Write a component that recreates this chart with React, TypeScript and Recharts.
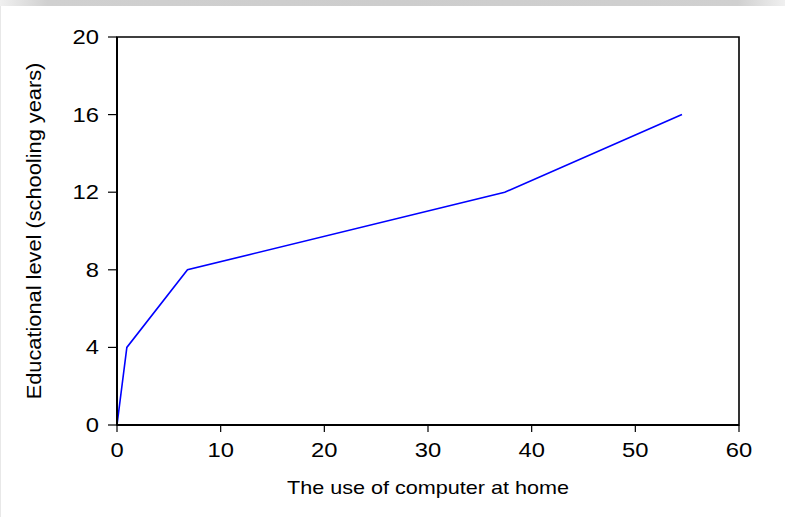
import React from 'react';
import { LineChart, Line, XAxis, YAxis, ReferenceArea, Label } from 'recharts';

// Data
const computerUse = [0, 0.95, 6.8, 37.4, 54.5];
const schoolingYears = [0, 4, 8, 12, 16];
const xTicks = [0, 10, 20, 30, 40, 50, 60];
const yTicks = [0, 4, 8, 12, 16, 20];
const xAxisTitle = 'The use of computer at home';
const yAxisTitle = 'Educational level (schooling years)';

const data = computerUse.map((x, i) => ({ x, y: schoolingYears[i] }));

const FONT = '"Liberation Sans", Arial, Helvetica, sans-serif';
const STRETCH = 1.22;

const XTick = (props: any) => {
  const { x, y, payload } = props;
  return (
    <g transform={`translate(${x},${y}) scale(${STRETCH},1)`}>
      <text x={0} y={0} dy="0.71em" textAnchor="middle" fontFamily={FONT} fontSize={19.5} fill="#000">
        {payload.value}
      </text>
    </g>
  );
};

const YTick = (props: any) => {
  const { x, y, payload } = props;
  return (
    <g transform={`translate(${x},${y}) scale(${STRETCH},1)`}>
      <text x={0} y={0} dy="0.355em" textAnchor="end" fontFamily={FONT} fontSize={19.5} fill="#000">
        {payload.value}
      </text>
    </g>
  );
};

export default function App() {
  return (
    <div style={{ position: 'absolute', left: 0, top: 0, width: 785, height: 517, background: '#fff', overflow: 'hidden' }}>
      <div
        style={{
          position: 'absolute',
          left: 0,
          top: 0,
          width: 785,
          height: 6,
          background: 'linear-gradient(to right, #f0f0f0, #d0d0d0 6%, #cdcdcd 50%, #d0d0d0 94%, #f0f0f0)',
        }}
      />
      <div style={{ position: 'absolute', left: 0, top: 6, width: 1, height: 511, background: '#e8e8e8' }} />
      <div style={{ position: 'absolute', left: 0, top: 0 }}>
        <LineChart width={785} height={517} data={data} margin={{ top: 37, right: 46, left: 0, bottom: 0 }}>
          <XAxis
            type="number"
            dataKey="x"
            domain={[0, 60]}
            ticks={xTicks}
            interval={0}
            height={92}
            tickSize={7}
            tickMargin={11}
            tick={<XTick />}
            axisLine={{ stroke: '#000', strokeWidth: 2 }}
            tickLine={{ stroke: '#000', strokeWidth: 1.2 }}
          >
            <Label
              content={(p: any) => {
                const vb = p.viewBox || {};
                const cx = vb.x + vb.width / 2;
                const cy = vb.y + 69;
                return (
                  <g transform={`translate(${cx},${cy}) scale(1.2,1)`}>
                    <text x={0} y={0} textAnchor="middle" fontFamily={FONT} fontSize={18} fill="#000">
                      {xAxisTitle}
                    </text>
                  </g>
                );
              }}
            />
          </XAxis>
          <YAxis
            type="number"
            dataKey="y"
            domain={[0, 20]}
            ticks={yTicks}
            interval={0}
            width={117}
            tickSize={9}
            tickMargin={9}
            tick={<YTick />}
            axisLine={{ stroke: '#000', strokeWidth: 2 }}
            tickLine={{ stroke: '#000', strokeWidth: 1.2 }}
          >
            <Label
              content={(p: any) => {
                const vb = p.viewBox || {};
                const cx = vb.x + 34;
                const cy = vb.y + vb.height / 2;
                return (
                  <g transform={`translate(${cx},${cy}) rotate(-90) scale(1.09,1)`}>
                    <text x={0} y={0} dy="0.35em" textAnchor="middle" fontFamily={FONT} fontSize={20} fill="#000">
                      {yAxisTitle}
                    </text>
                  </g>
                );
              }}
            />
          </YAxis>
          <ReferenceArea x1={0} x2={60} y1={0} y2={20} fill="none" fillOpacity={0} stroke="#000" strokeWidth={1.6} />
          <Line
            type="linear"
            dataKey="y"
            stroke="#0000ff"
            strokeWidth={1.6}
            dot={false}
            activeDot={false}
            isAnimationActive={false}
          />
        </LineChart>
      </div>
    </div>
  );
}
